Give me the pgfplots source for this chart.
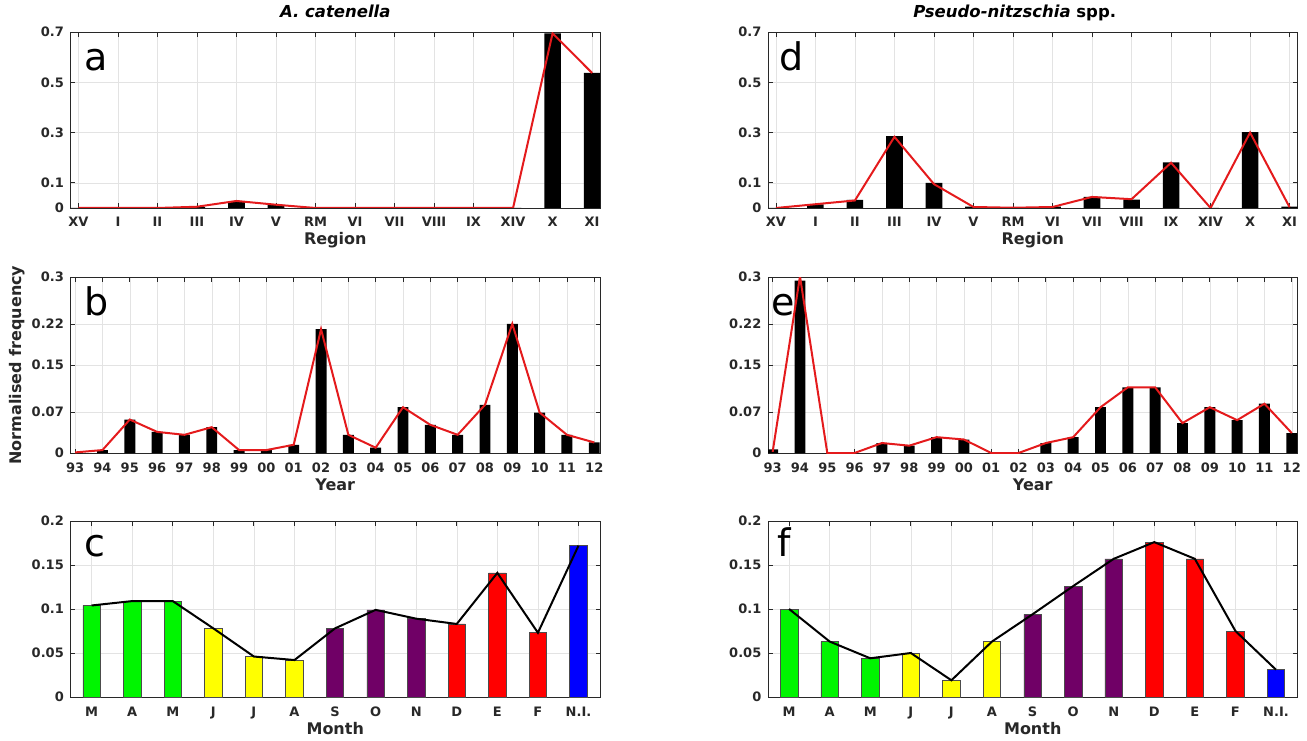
\documentclass[border=0pt]{standalone}
\usepackage{fontspec}
\setmainfont{DejaVu Sans}
\usepackage{pgfplots}
\pgfplotsset{compat=1.18}
\usepackage{pgfplotstable}

\definecolor{axgray}{RGB}{40,40,40}
\definecolor{lred}{RGB}{228,26,28}
\definecolor{cgreen}{RGB}{0,245,0}
\definecolor{cyellow}{RGB}{255,255,0}
\definecolor{cpurple}{RGB}{112,0,102}
\definecolor{cred}{RGB}{255,0,0}
\definecolor{cblue}{RGB}{0,0,255}

\newcommand{\tickfont}{\fontsize{13}{14}\selectfont\bfseries}
\newcommand{\labfont}{\fontsize{16}{17}\selectfont\bfseries}
\newcommand{\letfont}{\fontsize{38}{38}\selectfont}

% region panels: x bar line
\pgfplotstableread{
x bar line
1 0 0
2 0 0
3 0 0
4 0.004 0.005
5 0.024 0.028
6 0.012 0.013
7 0 0
8 0 0
9 0 0
10 0 0
11 0 0
12 0 0
13 0.695 0.695
14 0.537 0.537
}\dataA
\pgfplotstableread{
x bar line
1 0 0
2 0.014 0.015
3 0.032 0.030
4 0.286 0.283
5 0.100 0.095
6 0.005 0.004
7 0 0.001
8 0.005 0.004
9 0.044 0.044
10 0.033 0.035
11 0.181 0.180
12 0 0
13 0.302 0.300
14 0.005 0.003
}\dataD
% year panels, 93 ... 12 at 0 ... 19
\pgfplotstableread{
x bar line
0 0 0.001
1 0.005 0.005
2 0.057 0.057
3 0.036 0.036
4 0.031 0.031
5 0.044 0.044
6 0.005 0.005
7 0.005 0.005
8 0.014 0.014
9 0.211 0.211
10 0.031 0.031
11 0.009 0.009
12 0.078 0.078
13 0.048 0.048
14 0.031 0.031
15 0.082 0.082
16 0.220 0.220
17 0.069 0.069
18 0.031 0.031
19 0.018 0.018
}\dataB
\pgfplotstableread{
x bar line
0 0.006 0.002
1 0.294 0.301
2 0 0
3 0 0
4 0.017 0.017
5 0.0125 0.0125
6 0.027 0.027
7 0.023 0.023
8 0 0
9 0 0
10 0.017 0.017
11 0.027 0.027
12 0.078 0.078
13 0.112 0.112
14 0.112 0.112
15 0.051 0.051
16 0.078 0.078
17 0.056 0.056
18 0.084 0.084
19 0.034 0.034
}\dataE
% month panels
\pgfplotstableread{
x y
1 0.104
2 0.109
3 0.109
4 0.078
5 0.046
6 0.042
7 0.078
8 0.099
9 0.089
10 0.083
11 0.141
12 0.073
13 0.172
}\dataC
\pgfplotstableread{
x y
1 0.100
2 0.063
3 0.044
4 0.050
5 0.019
6 0.063
7 0.094
8 0.126
9 0.157
10 0.176
11 0.157
12 0.075
13 0.031
}\dataF

\pgfplotsset{
  panel/.style={
    scale only axis, width=529.5pt, height=176pt, anchor=south west,
    axis line style={draw=axgray, line width=0.8pt},
    grid=major, grid style={gray!22, line width=0.5pt},
    tick align=inside, major tick length=4.5pt,
    tick style={axgray, line width=0.8pt},
    ticklabel style={font=\tickfont, text=axgray},
    xticklabel style={anchor=base, inner sep=0pt, yshift=-19pt},
    yticklabel style={anchor=east, inner sep=0pt, xshift=-6.5pt},
    xlabel style={at={(axis description cs:0.5,0)}, anchor=base, inner sep=0pt, yshift=-37pt, font=\labfont, text=axgray},
    title style={at={(axis description cs:0.5,1)}, anchor=base, inner sep=0pt, yshift=8.7pt, font=\fontsize{16.5}{18}\selectfont\bfseries},
  },
  regpanel/.style={panel, xmin=0.8, xmax=14.2, ymin=0, ymax=0.7,
    xtick={1,...,14}, xticklabels={XV,I,II,III,IV,V,RM,VI,VII,VIII,IX,XIV,X,XI},
    ytick={0,0.1,0.3,0.5,0.7}, yticklabels={0,0.1,0.3,0.5,0.7}, xlabel={Region}},
  yearpanel/.style={panel, xmin=-0.17, xmax=19.21, ymin=0, ymax=0.3,
    xtick={0,...,19}, xticklabels={93,94,95,96,97,98,99,00,01,02,03,04,05,06,07,08,09,10,11,12},
    ytick={0,0.07,0.15,0.22,0.3}, yticklabels={0,0.07,0.15,0.22,0.3}, xlabel={Year}},
  monpanel/.style={panel, xmin=0.48, xmax=13.53, ymin=0, ymax=0.2,
    xtick={1,...,13}, xticklabels={M,A,M,J,J,A,S,O,N,D,E,F,N.I.},
    ytick={0,0.05,0.1,0.15,0.2}, yticklabels={0,0.05,0.1,0.15,0.2}, xlabel={Month}},
  blackbar/.style={ybar, bar width=0.42, fill=black, draw=none},
  redline/.style={lred, line width=2pt, sharp plot, no marks},
  mbar/.style={ybar, bar width=0.43, draw=black!70, line width=0.6pt},
  monline/.style={black, line width=2pt, sharp plot, no marks},
}

\begin{document}
\begin{tikzpicture}
\path[use as bounding box] (0,0) rectangle (1307pt,740pt);

% a
\begin{axis}[regpanel, at={(70.5pt,532pt)}, title={\itshape A. catenella}]
\addplot[blackbar] table[x=x, y=bar] {\dataA};
\addplot[redline] table[x=x, y=line] {\dataA};
\node[anchor=base west, inner sep=0pt, font=\letfont] at (rel axis cs:0.026,0.784) {a};
\end{axis}

% d
\begin{axis}[regpanel, at={(768pt,532pt)}, title={\textit{Pseudo-nitzschia} spp.},
  title style={at={(axis description cs:0.466,1)}}]
\addplot[blackbar] table[x=x, y=bar] {\dataD};
\addplot[redline] table[x=x, y=line] {\dataD};
\node[anchor=base west, inner sep=0pt, font=\letfont] at (rel axis cs:0.022,0.784) {d};
\end{axis}

% b
\begin{axis}[yearpanel, at={(70.5pt,287pt)},
  ylabel={Normalised frequency},
  ylabel style={at={(axis description cs:-0.1,0.5)}, anchor=center, inner sep=0pt, rotate=0, font=\labfont, text=axgray}]
\addplot[blackbar, bar width=0.4] table[x=x, y=bar] {\dataB};
\addplot[redline] table[x=x, y=line] {\dataB};
\node[anchor=base west, inner sep=0pt, font=\letfont] at (rel axis cs:0.026,0.784) {b};
\end{axis}

% e
\begin{axis}[yearpanel, at={(768pt,287pt)}]
\addplot[blackbar, bar width=0.4] table[x=x, y=bar] {\dataE};
\addplot[redline] table[x=x, y=line] {\dataE};
\node[anchor=base west, inner sep=0pt, font=\letfont] at (rel axis cs:0.006,0.784) {e};
\end{axis}

% c
\begin{axis}[monpanel, at={(70.5pt,43pt)}]
\addplot[mbar, fill=cgreen, restrict x to domain=1:3] table[x=x, y=y] {\dataC};
\addplot[mbar, fill=cyellow, restrict x to domain=4:6] table[x=x, y=y] {\dataC};
\addplot[mbar, fill=cpurple, restrict x to domain=7:9] table[x=x, y=y] {\dataC};
\addplot[mbar, fill=cred, restrict x to domain=10:12] table[x=x, y=y] {\dataC};
\addplot[mbar, fill=cblue, restrict x to domain=13:13] table[x=x, y=y] {\dataC};
\addplot[monline] table[x=x, y=y] {\dataC};
\node[anchor=base west, inner sep=0pt, font=\letfont] at (rel axis cs:0.026,0.80) {c};
\end{axis}

% f
\begin{axis}[monpanel, at={(768pt,43pt)}]
\addplot[mbar, fill=cgreen, restrict x to domain=1:3] table[x=x, y=y] {\dataF};
\addplot[mbar, fill=cyellow, restrict x to domain=4:6] table[x=x, y=y] {\dataF};
\addplot[mbar, fill=cpurple, restrict x to domain=7:9] table[x=x, y=y] {\dataF};
\addplot[mbar, fill=cred, restrict x to domain=10:12] table[x=x, y=y] {\dataF};
\addplot[mbar, fill=cblue, restrict x to domain=13:13] table[x=x, y=y] {\dataF};
\addplot[monline] table[x=x, y=y] {\dataF};
\node[anchor=base west, inner sep=0pt, font=\letfont] at (rel axis cs:0.018,0.80) {f};
\end{axis}
\end{tikzpicture}
\end{document}
